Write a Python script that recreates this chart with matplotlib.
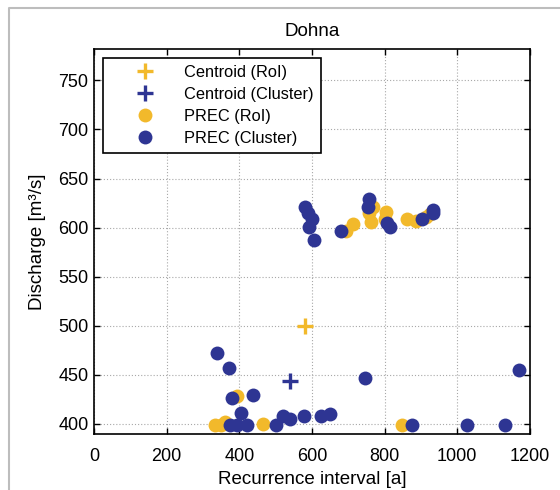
import matplotlib
matplotlib.use("Agg")
import matplotlib.pyplot as plt
from matplotlib.lines import Line2D

plt.rcParams["font.family"] = ["Liberation Sans", "DejaVu Sans"]

# Event sets: recurrence interval [a] and discharge [m^3/s]
prec_roi_x = [693, 712, 769, 757, 762, 805, 801, 861, 888, 914, 925,
              395, 333, 349, 360, 466, 847]
prec_roi_y = [597, 604, 621, 615, 606, 616, 609, 609, 607, 611, 614,
              428, 399, 399, 402, 400, 399]

prec_cluster_x = [581, 590, 599, 592, 605, 680, 758, 754, 807, 816, 902,
                  934, 934, 338, 372, 381, 437, 404, 374, 393, 422, 500,
                  519, 539, 578, 626, 651, 746, 877, 1027, 1131, 1169]
prec_cluster_y = [621, 615, 609, 601, 587, 597, 629, 621, 605, 601, 609,
                  618, 615, 472, 457, 426, 429, 411, 399, 399, 399, 399,
                  408, 405, 408, 408, 410, 447, 399, 399, 399, 455]

centroid_roi = (580, 500)
centroid_cluster = (541, 444)

yellow = "#f2b92b"
blue = "#2e3593"

fig = plt.figure(figsize=(5.6, 4.9), dpi=100)
ax = fig.add_axes([0.168, 0.114, 0.778, 0.786])

ax.plot(prec_roi_x, prec_roi_y, "o", color=yellow, ms=10, mew=0, zorder=3)
ax.plot(prec_cluster_x, prec_cluster_y, "o", color=blue, ms=10, mew=0, zorder=4)
ax.plot(*centroid_roi, "+", color=yellow, ms=12, mew=2.4, zorder=5)
ax.plot(*centroid_cluster, "+", color=blue, ms=12, mew=2.4, zorder=5)

ax.set_xlim(0, 1200)
ax.set_ylim(389.5, 782)
ax.set_xticks(range(0, 1201, 200))
ax.set_yticks(range(400, 751, 50))
ax.tick_params(direction="in", top=True, right=True, length=4, width=1,
               labelsize=13, colors="black", pad=4)
ax.tick_params(axis="x", pad=10)
ax.grid(True, linestyle=(0, (1, 1.8)), color="#a8a8a8", linewidth=0.8)
for s in ax.spines.values():
    s.set_linewidth(1.2)

ax.set_title("Dohna", fontsize=13.5, pad=9)
ax.set_xlabel("Recurrence interval [a]", fontsize=13.5, labelpad=4)
ax.set_ylabel("Discharge [m\u00b3/s]", fontsize=13.5, labelpad=9)

handles = [
    Line2D([], [], marker="+", ls="none", color=yellow, ms=12, mew=2.4),
    Line2D([], [], marker="+", ls="none", color=blue, ms=12, mew=2.4),
    Line2D([], [], marker="o", ls="none", color=yellow, ms=10, mew=0),
    Line2D([], [], marker="o", ls="none", color=blue, ms=10, mew=0),
]
labels = ["Centroid (RoI)", "Centroid (Cluster)", "PREC (RoI)", "PREC (Cluster)"]
leg = ax.legend(handles, labels, loc="upper left", bbox_to_anchor=(0.021, 0.977),
                borderaxespad=0, fancybox=False, framealpha=1, edgecolor="black",
                fontsize=11.8, handlelength=4.2, handletextpad=0.3,
                labelspacing=0.42, borderpad=0.45)
leg.get_frame().set_linewidth(1.2)

# Light grey frame around the figure panel
W, H = 560, 490
fig.add_artist(Line2D([9 / W, 9 / W, 1.0], [0.0, 1 - 8 / H, 1 - 8 / H],
                      transform=fig.transFigure, color="#bdbdbd", lw=1.5))

fig.savefig("out.png", dpi=100)
